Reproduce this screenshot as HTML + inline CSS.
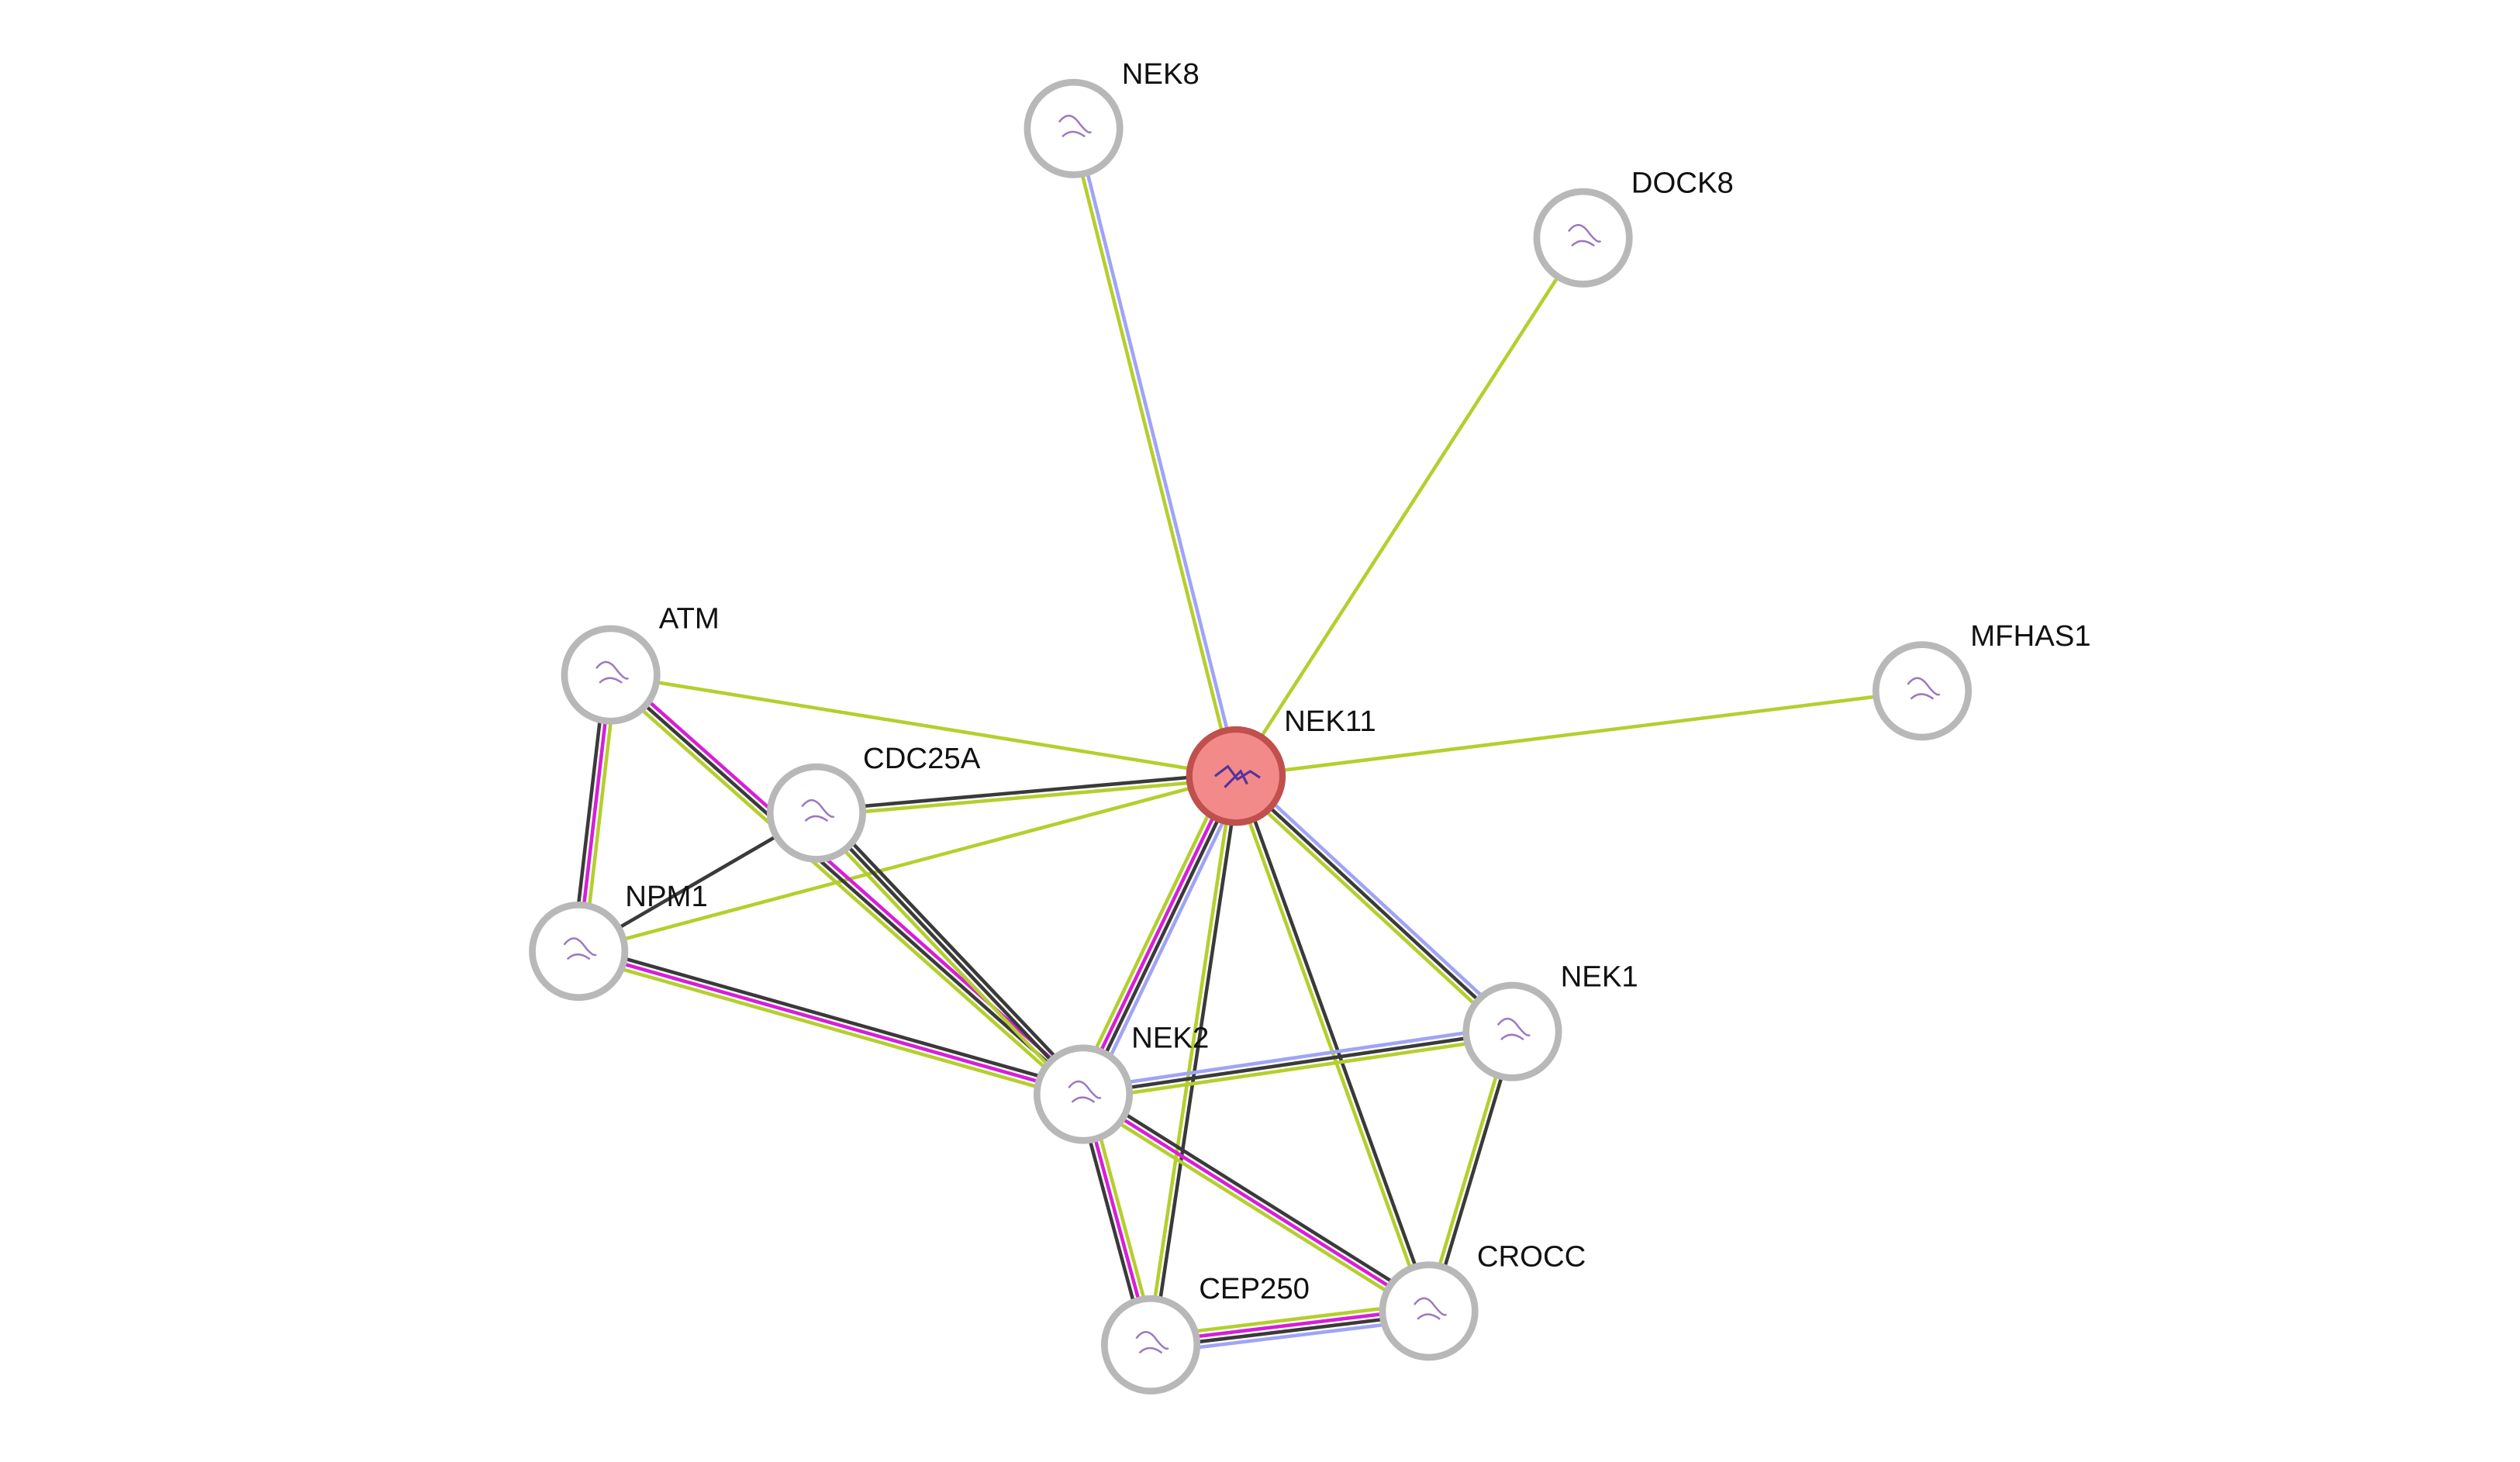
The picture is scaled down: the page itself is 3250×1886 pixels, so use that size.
<!DOCTYPE html>
<html><head><meta charset="utf-8"><style>
html,body{margin:0;padding:0;background:#fff;}
svg{display:block;}
text{font-family:"Liberation Sans",Arial,sans-serif;font-size:18.5px;fill:#111;}
</style></head><body>
<svg id="s" width="3250" height="1886" viewBox="0 0 1568 909.9" xmlns="http://www.w3.org/2000/svg">
<g id="edges"></g><g id="nodes"></g>
<text x="698" y="52">NEK8</text>
<text x="1015" y="120">DOCK8</text>
<text x="1226" y="402">MFHAS1</text>
<text x="799" y="455">NEK11</text>
<text x="410" y="391">ATM</text>
<text x="537" y="478">CDC25A</text>
<text x="389" y="564">NPM1</text>
<text x="704" y="652">NEK2</text>
<text x="971" y="614">NEK1</text>
<text x="919" y="788">CROCC</text>
<text x="746" y="808">CEP250</text>
</svg>
<script>
var N={NEK8:[668,80],DOCK8:[985,148],MFHAS1:[1196,430],NEK11:[769,483],ATM:[380,420],CDC25A:[508,506],NPM1:[360,592],NEK2:[674,681],NEK1:[941,642],CROCC:[889,816],CEP250:[716,837]};
var G="#b4cf2e",K="#3a3a3a",M="#d71fd7",B="#a0a4f5";
var E=[["NEK8","NEK11",[B,G]],["DOCK8","NEK11",[G]],["MFHAS1","NEK11",[G]],["ATM","NEK11",[G]],
["CDC25A","NEK11",[K,G]],["NPM1","NEK11",[G]],["ATM","NPM1",[G,M,K]],["ATM","NEK2",[M,K,G]],
["CDC25A","NPM1",[K]],["CDC25A","NEK2",[K,K,G]],["NPM1","NEK2",[K,M,G]],["NEK11","NEK2",[B,K,M,G]],
["NEK11","NEK1",[B,K,G]],["NEK11","CEP250",[K,G]],["NEK11","CROCC",[K,G]],["NEK2","NEK1",[B,K,G]],
["NEK1","CROCC",[K,G]],["NEK2","CEP250",[G,M,K]],["NEK2","CROCC",[K,M,G]],["CEP250","CROCC",[G,M,K,B]]];
var ns="http://www.w3.org/2000/svg",eg=document.getElementById("edges"),ng=document.getElementById("nodes");
function el(t,a,p){var e=document.createElementNS(ns,t);for(var k in a)e.setAttribute(k,a[k]);p.appendChild(e);return e;}
E.forEach(function(e){var a=N[e[0]],b=N[e[1]],dx=b[0]-a[0],dy=b[1]-a[1],L=Math.hypot(dx,dy),px=-dy/L,py=dx/L,n=e[2].length,sp=3.4;
e[2].forEach(function(c,i){var o=(i-(n-1)/2)*sp;el("line",{x1:a[0]+px*o,y1:a[1]+py*o,x2:b[0]+px*o,y2:b[1]+py*o,stroke:c,"stroke-width":2.2},eg);});});
for(var k in N){var p=N[k];
if(k=="NEK11"){el("circle",{cx:p[0],cy:p[1],r:29,fill:"#f28a8a",stroke:"#c0504d","stroke-width":4},ng);
el("path",{d:"M756 483 l8 -6 l6 8 l8 -5 l6 4 M762 490 l10 -10 l4 8",stroke:"#553399",fill:"none","stroke-width":1.5},ng);}
else{el("circle",{cx:p[0],cy:p[1],r:28.8,fill:"#fff",stroke:"#b8b8b8","stroke-width":4.2},ng);
el("path",{d:"M"+(p[0]-9)+" "+(p[1]-4)+" q6 -8 12 0 t8 6 M"+(p[0]-7)+" "+(p[1]+5)+" q6 -6 14 0",stroke:"#9b79c0",fill:"none","stroke-width":1.2},ng);}}
</script>
</body></html>
